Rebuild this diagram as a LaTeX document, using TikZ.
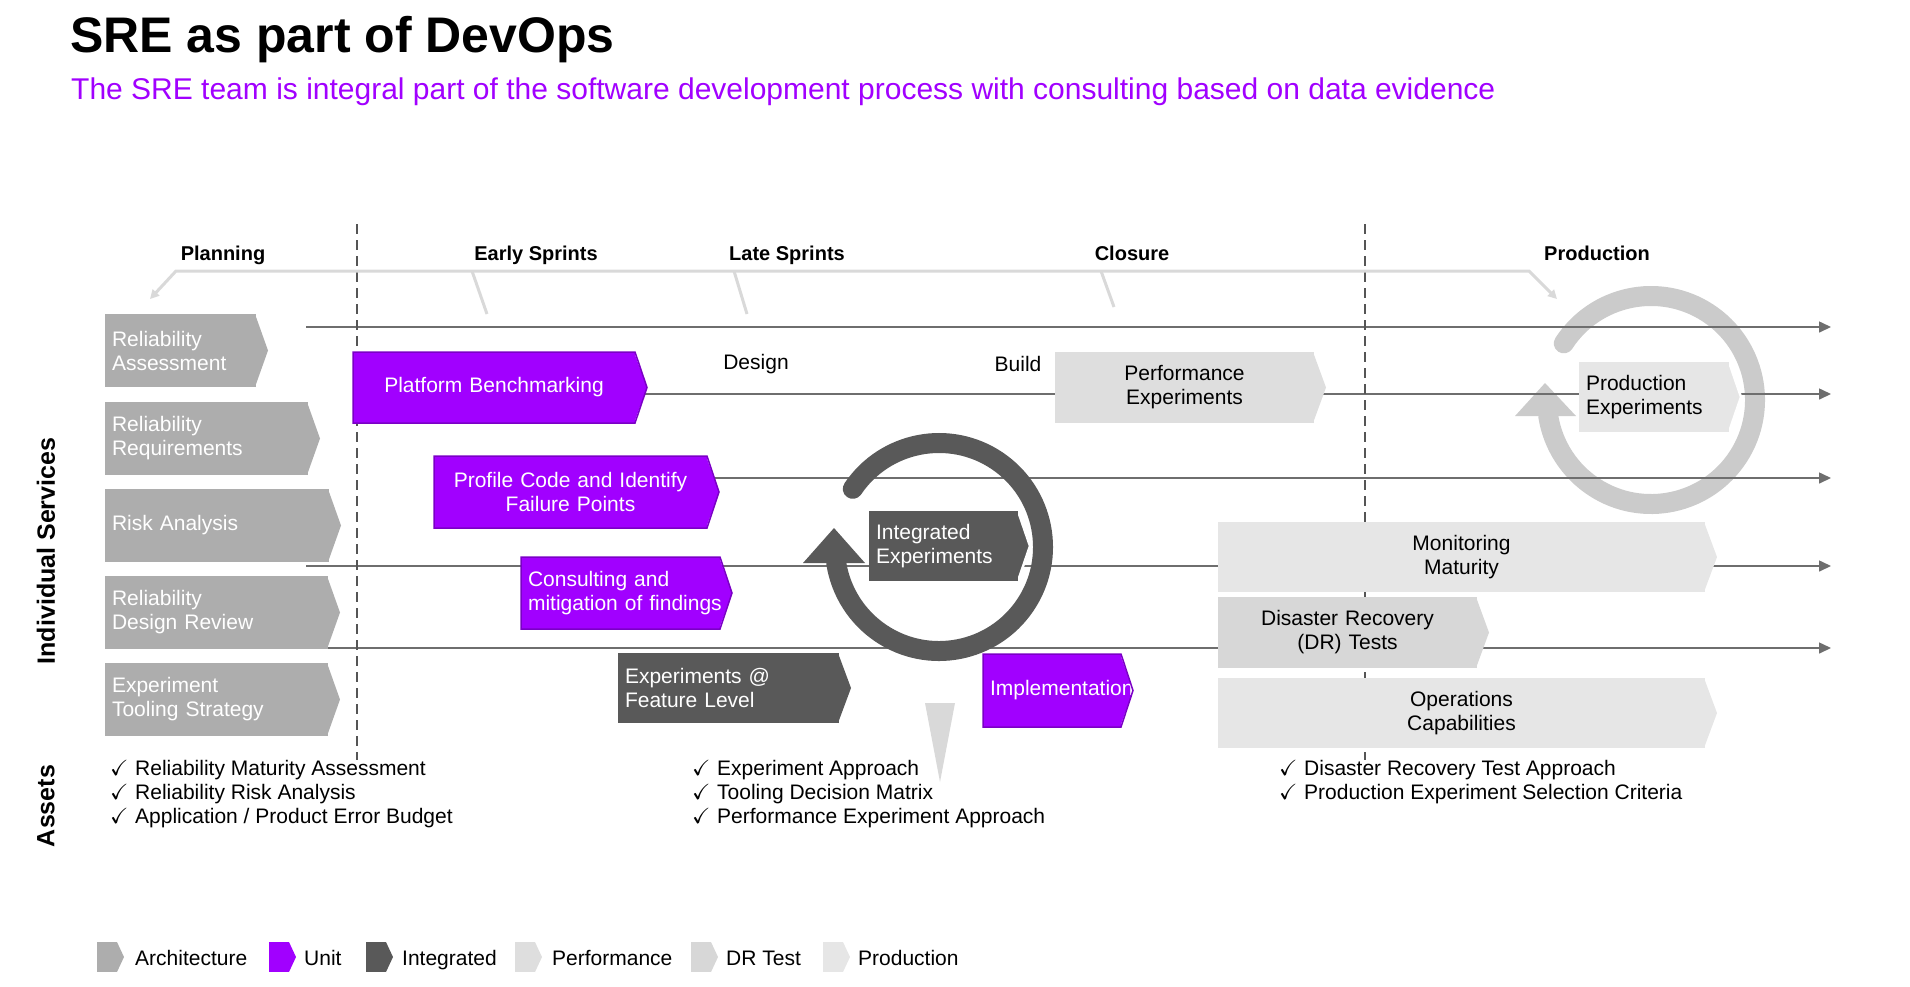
\documentclass[tikz,border=0pt]{standalone}
\usepackage{fontspec}
\setmainfont{Liberation Sans}
\usepackage{amssymb}
\usetikzlibrary{arrows.meta}

\definecolor{archgray}{HTML}{ADADAD}
\definecolor{unitpurple}{HTML}{A100FF}
\definecolor{unitedge}{HTML}{7B00C6}
\definecolor{intgray}{HTML}{595959}
\definecolor{perfgray}{HTML}{DEDEDE}
\definecolor{drgray}{HTML}{D7D7D7}
\definecolor{prodgray}{HTML}{E6E6E6}
\definecolor{linegray}{HTML}{6E6E6E}
\definecolor{phasegray}{HTML}{D9D9D9}
\definecolor{ringgray}{HTML}{CBCBCB}
\definecolor{divgray}{HTML}{555555}

\pgfdeclarelayer{back}
\pgfdeclarelayer{tips}
\pgfsetlayers{back,tips,main}

\newcommand{\bodysize}{\fontsize{21}{24}\selectfont}
\newcommand{\chk}{\makebox[25pt][l]{\fontsize{22}{22}\selectfont$\checkmark$}}

\tikzset{
  stagebox/.style={rectangle, anchor=north west, inner xsep=7pt, inner ysep=0pt,
    outer sep=0pt, minimum height=71pt, font=\bodysize},
  archbox/.style={stagebox, fill=archgray, text=white, align=left, minimum height=73pt},
  unitbox/.style={stagebox, fill=unitpurple, text=white, align=center},
  intbox/.style={stagebox, fill=intgray, text=white, align=left, minimum height=70pt},
  perfbox/.style={stagebox, fill=perfgray, align=center},
  drbox/.style={stagebox, fill=drgray, align=center},
  prodbox/.style={stagebox, fill=prodgray, align=center, minimum height=70pt},
  phase/.style={anchor=base, font=\fontsize{20}{22}\selectfont\bfseries},
  rowline/.style={draw=linegray, line width=1.5pt, -{Triangle[length=12pt,width=11pt]}},
  sideline/.style={draw=phasegray, line width=3pt},
  divider/.style={draw=divgray, line width=2pt, dash pattern=on 10pt off 6pt},
  ring/.style={line width=20pt, line cap=round},
  legendbox/.style={rectangle, anchor=west, minimum width=20pt, minimum height=30pt,
    inner sep=0pt, outer sep=0pt},
  legendtext/.style={anchor=base west, inner sep=0pt, font=\bodysize},
  assetlist/.style={anchor=west, inner sep=0pt, align=left, font=\bodysize},
  sidelabel/.style={rotate=90, font=\fontsize{25}{28}\selectfont\bfseries}
}

\begin{document}
\begin{tikzpicture}[x=1pt, y=-1pt]
\useasboundingbox (0,0) rectangle (1910,986);

\node[anchor=base west, inner sep=0pt, font=\fontsize{50}{54}\selectfont\bfseries] (title) at (70,52) {SRE as part of DevOps};
\node[anchor=base west, inner sep=0pt, text=unitpurple, font=\fontsize{30}{32}\selectfont] (subtitle) at (71,99)
  {The SRE team is integral part of the software development process with consulting based on data evidence};

\node[phase] (planning) at (223,260) {Planning};
\node[phase] (early) at (536,260) {Early Sprints};
\node[phase] (late) at (787,260) {Late Sprints};
\node[phase] (closure) at (1132,260) {Closure};
\node[phase] (production) at (1597,260) {Production};

\coordinate (planTip) at (150,299);
\coordinate (prodTip) at (1557,299);
\draw[sideline, {Triangle[length=9pt,width=9pt]}-{Triangle[length=9pt,width=9pt]}]
  (planTip) -- (176,271) -- (1529,271) -- (prodTip);
\foreach \xa/\xb/\yb in {472/487/314, 734/747/314, 1101/1114/307}
  \draw[sideline] (\xa,271) -- (\xb,\yb);

\begin{pgfonlayer}{back}
  \coordinate (prodRing) at (1651,400);
  \coordinate (intRing) at (939,547);
  \draw[ring, ringgray] ([shift={(147:104pt)}]prodRing) arc[start angle=147, end angle=-171, radius=104pt];
  \fill[ringgray] (1515,416) -- (1576,416) -- (1545,383) -- cycle;
  \foreach \xs/\y in {306/327, 640/394, 715/478, 306/566, 306/648}
    \draw[rowline] (\xs,\y) -- (1831,\y);
  \foreach \x in {357,1365}
    \draw[divider] (\x,224) -- (\x,760);
  \draw[ring, intgray] ([shift={(146:104pt)}]intRing) arc[start angle=146, end angle=-171, radius=104pt];
  \fill[intgray] (803,563) -- (865,563) -- (834,528) -- cycle;
  \fill[phasegray] (925,703) -- (955,703) -- (940,782) -- cycle;
\end{pgfonlayer}

\node[archbox, text width=137pt] (relAssess) at (105,314) {Reliability\\Assessment};
\node[archbox, text width=189pt] (relReq) at (105,402) {Reliability\\Requirements};
\node[archbox, text width=210pt] (riskAna) at (105,489) {Risk Analysis};
\node[archbox, text width=209pt] (relDesign) at (105,576) {Reliability\\Design Review};
\node[archbox, text width=209pt] (expTool) at (105,663) {Experiment\\Tooling Strategy};

\node[unitbox, text width=268pt] (platform) at (353,352) {Platform Benchmarking};
\node[unitbox, text width=259pt, minimum height=72pt] (profile) at (434,456) {Profile Code and Identify\\Failure Points};
\node[unitbox, text width=185pt, align=left, minimum height=72pt] (consult) at (521,557) {Consulting and\\\mbox{mitigation of findings}};
\node[unitbox, text width=124pt, align=left, minimum height=73pt] (implement) at (983,654) {\mbox{Implementation}};

\node[intbox, text width=207pt] (featureExp) at (618,653) {Experiments @\\Feature Level};
\node[intbox, text width=135pt] (integExp) at (869,511) {Integrated\\Experiments};

\node[font=\bodysize] (design) at (756,364) {Design};
\node[font=\bodysize] (build) at (1018,364) {Build};

\node[perfbox, text width=245pt] (perfExp) at (1055,352) {Performance\\Experiments};
\node[prodbox, text width=136pt, align=left] (prodExp) at (1579,362) {Production\\Experiments};
\node[prodbox, text width=473pt] (monitor) at (1218,522) {Monitoring\\Maturity};
\node[drbox, text width=245pt] (drTest) at (1218,597) {Disaster Recovery\\(DR) Tests};
\node[prodbox, text width=473pt] (ops) at (1218,678) {Operations\\Capabilities};

\begin{pgfonlayer}{tips}
  \foreach \n/\c in {relAssess/archgray, relReq/archgray, riskAna/archgray, relDesign/archgray,
      expTool/archgray, platform/unitpurple, profile/unitpurple, consult/unitpurple,
      implement/unitpurple, featureExp/intgray, integExp/intgray, perfExp/perfgray,
      prodExp/prodgray, monitor/prodgray, drTest/drgray, ops/prodgray}
    \fill[\c] ([xshift=-1pt]\n.north east) -- ([xshift=12pt]\n.east) -- ([xshift=-1pt]\n.south east) -- cycle;
  \foreach \n in {integExp, prodExp}
    \draw[white, line width=2.5pt] (\n.north east) -- ([xshift=12pt]\n.east) -- (\n.south east);
\end{pgfonlayer}

\foreach \n in {platform, profile, consult, implement}
  \draw[unitedge, line width=1.5pt] (\n.north west) -- (\n.north east) -- ([xshift=12pt]\n.east)
    -- (\n.south east) -- (\n.south west) -- cycle;

\node[sidelabel] (services) at (46,551) {Individual Services};
\node[sidelabel] (assetsLabel) at (46,806) {Assets};

\node[assetlist] (assetsPlan) at (110,794) {\chk Reliability Maturity Assessment\\\chk Reliability Risk Analysis\\\chk Application / Product Error Budget};
\node[assetlist] (assetsSprint) at (692,794) {\chk Experiment Approach\\\chk Tooling Decision Matrix\\\chk Performance Experiment Approach};
\node[assetlist] (assetsProd) at (1279,782) {\chk Disaster Recovery Test Approach\\\chk Production Experiment Selection Criteria};

\foreach \n/\c/\x/\t/\tx in {lgArch/archgray/97/Architecture/135, lgUnit/unitpurple/269/Unit/304,
    lgInt/intgray/366/Integrated/402, lgPerf/perfgray/515/Performance/552,
    lgDr/drgray/691/DR Test/726, lgProd/prodgray/823/Production/858} {
  \node[legendbox, fill=\c] (\n) at (\x,957) {};
  \fill[\c] (\n.north east) -- ([xshift=7pt]\n.east) -- (\n.south east) -- cycle;
  \node[legendtext] (\n-txt) at (\tx,965) {\t};
}

\end{tikzpicture}
\end{document}
